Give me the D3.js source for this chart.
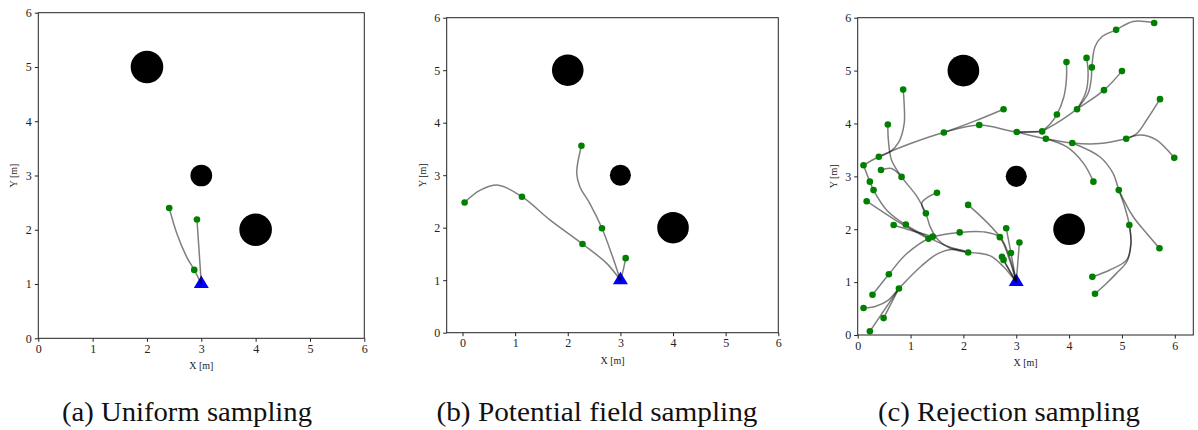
<!DOCTYPE html>
<html><head><meta charset="utf-8">
<script src="https://cdn.jsdelivr.net/npm/d3@7"></script>
<style>
html,body{margin:0;padding:0;background:#fff;}
svg{display:block;}
</style></head>
<body>
<svg id="chart" width="1198" height="430"></svg>
<script>
// ---------- DATA ----------
const tickValues = [0, 1, 2, 3, 4, 5, 6];
const captions = ["(a) Uniform sampling", "(b) Potential field sampling", "(c) Rejection sampling"];
const xLabel = "X [m]";
const yLabel = "Y [m]";

// obstacles: [x, y, radius] in metres
const obstacles = [[2, 5, 0.3], [3, 3, 0.2], [4, 2, 0.3]];
const start = [3, 1];

// (a) Uniform sampling
const nodesA = [[2.41, 2.40], [2.92, 2.19], [2.87, 1.26]];
const pathsA = [
  [[3, 1], [2.87, 1.26], [2.73, 1.50], [2.55, 1.93], [2.41, 2.40]],
  [[3, 1], [2.96, 1.60], [2.92, 2.19]]
];

// (b) Potential field sampling
const nodesB = [[0.04, 2.48], [1.13, 2.59], [2.28, 1.69], [2.26, 3.56], [2.65, 1.99], [3.10, 1.42]];
const pathsB = [
  [[3, 1], [2.74, 1.32], [2.28, 1.69], [1.66, 2.15], [1.13, 2.59], [0.68, 2.81], [0.33, 2.71], [0.04, 2.48]],
  [[3, 1], [2.85, 1.45], [2.65, 1.99], [2.42, 2.46], [2.23, 2.78], [2.17, 3.04], [2.26, 3.56]],
  [[3, 1], [3.06, 1.22], [3.10, 1.42]]
];

// (c) Rejection sampling
const nodesC = [
  [5.61, 5.90], [4.89, 5.77], [4.33, 5.24], [4.43, 5.06], [5.00, 4.99], [3.95, 5.16], [4.66, 4.63],
  [4.15, 4.27], [3.77, 4.17], [3.49, 3.85], [3.01, 3.84], [3.56, 3.71], [4.06, 3.63], [5.08, 3.71],
  [5.72, 4.46], [5.99, 3.35], [4.46, 2.90], [4.94, 2.74], [5.14, 2.08], [5.71, 1.64], [4.44, 1.10],
  [4.49, 0.78], [2.76, 4.27], [2.30, 3.97], [1.63, 3.83], [0.86, 4.64], [0.57, 3.98], [0.40, 3.37],
  [0.11, 3.21], [0.44, 3.12], [0.83, 2.99], [0.23, 2.90], [0.30, 2.74], [0.17, 2.53], [1.50, 2.69],
  [1.29, 2.30], [2.09, 2.46], [0.68, 2.08], [0.91, 2.09], [1.34, 1.82], [1.42, 1.86], [1.93, 1.94],
  [2.09, 1.56], [2.69, 1.85], [2.81, 2.02], [3.06, 1.75], [2.90, 1.55], [2.73, 1.48], [2.76, 1.42],
  [0.59, 1.15], [0.78, 0.88], [0.28, 0.76], [0.11, 0.51], [0.49, 0.32], [0.23, 0.07]
];
const pathsC = [
  [[3, 1], [2.85, 1.25], [2.73, 1.48]],
  [[3, 1], [2.76, 1.42]],
  [[3, 1], [2.90, 1.55], [2.81, 2.02]],
  [[3, 1], [3.06, 1.75]],
  [[3, 1], [2.88, 1.40], [2.69, 1.85], [2.09, 2.46]],
  [[3, 1], [2.88, 1.45], [2.69, 1.85], [2.38, 1.95], [1.93, 1.94], [1.38, 1.84], [0.93, 1.54], [0.59, 1.15], [0.28, 0.76]],
  [[3, 1], [2.75, 1.30], [2.50, 1.50], [2.09, 1.56]],
  [[2.09, 1.56], [1.85, 1.62], [1.52, 1.54], [1.20, 1.30], [0.78, 0.88], [0.58, 0.66], [0.33, 0.54], [0.11, 0.51]],
  [[0.78, 0.88], [0.49, 0.32]],
  [[0.78, 0.88], [0.23, 0.07]],
  [[2.09, 1.56], [1.75, 1.66], [1.43, 1.80], [0.91, 2.08], [0.55, 2.36], [0.30, 2.74], [0.23, 2.90], [0.11, 3.21]],
  [[1.34, 1.82], [0.75, 2.15], [0.17, 2.53]],
  [[1.42, 1.86], [1.00, 1.98], [0.68, 2.08]],
  [[2.09, 1.56], [1.75, 1.64], [1.52, 1.80], [1.37, 2.05], [1.29, 2.30], [1.12, 2.62], [0.83, 2.99], [0.64, 3.31], [0.58, 3.69], [0.57, 3.98]],
  [[1.29, 2.30], [1.21, 2.49], [1.35, 2.62], [1.50, 2.69]],
  [[0.83, 2.99], [0.64, 3.15], [0.44, 3.12]],
  [[0.11, 3.21], [0.40, 3.37], [1.00, 3.62], [1.63, 3.83], [2.30, 3.97], [3.01, 3.84], [3.49, 3.85]],
  [[3.01, 3.84], [3.49, 3.85]],
  [[0.40, 3.37], [0.62, 3.47], [0.78, 3.65], [0.88, 4.00], [0.88, 4.35], [0.86, 4.64]],
  [[1.63, 3.83], [2.20, 4.04], [2.76, 4.27]],
  [[3.49, 3.85], [3.65, 4.00], [3.77, 4.17], [3.90, 4.50], [3.95, 4.85], [3.95, 5.16]],
  [[3.49, 3.85], [3.80, 4.03], [4.15, 4.27], [4.66, 4.63], [5.00, 4.99]],
  [[4.15, 4.27], [4.36, 4.57], [4.42, 4.85], [4.43, 5.06], [4.49, 5.45], [4.62, 5.64], [4.89, 5.77], [5.21, 5.93], [5.61, 5.90]],
  [[4.15, 4.27], [4.32, 4.60], [4.36, 4.95], [4.33, 5.24]],
  [[3.01, 3.84], [3.56, 3.71], [4.06, 3.63], [4.58, 3.62], [5.08, 3.71]],
  [[5.08, 3.71], [5.28, 3.81], [5.47, 4.07], [5.72, 4.46]],
  [[5.08, 3.71], [5.34, 3.78], [5.65, 3.69], [5.99, 3.35]],
  [[3.56, 3.71], [3.95, 3.56], [4.27, 3.25], [4.46, 2.90]],
  [[4.06, 3.63], [4.58, 3.37], [4.83, 3.06], [4.94, 2.74], [5.05, 2.43], [5.14, 2.08], [5.17, 1.73], [5.09, 1.42], [4.77, 1.23], [4.44, 1.10]],
  [[5.14, 2.08], [5.17, 1.73], [5.10, 1.40], [4.90, 1.17], [4.71, 0.98], [4.49, 0.78]],
  [[4.94, 2.74], [5.21, 2.24], [5.47, 1.92], [5.71, 1.64]]
];

// ---------- LAYOUT ----------
const panels = [
  {nodes: nodesA, paths: pathsA, xDomain: [0, 6], yDomain: [0, 6], x0: 38.3, x1: 364.3, y0: 338.3, y1: 12.7, capX: 187, capW: 250},
  {nodes: nodesB, paths: pathsB, xDomain: [-0.3, 6], yDomain: [0, 6], x0: 446.7, x1: 778.3, y0: 332.7, y1: 17.7, capX: 597, capW: 321},
  {nodes: nodesC, paths: pathsC, xDomain: [0, 6.35], yDomain: [0, 6], x0: 857.7, x1: 1193.3, y0: 335, y1: 17.7, capX: 1009, capW: 262}
];

const svg = d3.select("#chart");
svg.append("rect").attr("width", 1198).attr("height", 430).attr("fill", "#fff");

const serif = '"Liberation Serif","DejaVu Serif",serif';

panels.forEach((p, i) => {
  const x = d3.scaleLinear().domain(p.xDomain).range([p.x0, p.x1]);
  const y = d3.scaleLinear().domain(p.yDomain).range([p.y0, p.y1]);
  const g = svg.append("g");

  // obstacles
  g.selectAll("circle.obs").data(obstacles).join("circle")
    .attr("class", "obs")
    .attr("cx", d => x(d[0])).attr("cy", d => y(d[1]))
    .attr("r", d => x(d[2]) - x(0))
    .attr("fill", "#000");

  // start triangle
  const sx = x(start[0]), sy = y(start[1]) - 2;
  g.append("path")
    .attr("d", `M${sx},${sy - 6.5}L${sx + 7.5},${sy + 6}L${sx - 7.5},${sy + 6}Z`)
    .attr("fill", "#0000ff");

  // edges
  const line = d3.line().x(d => x(d[0])).y(d => y(d[1])).curve(d3.curveCatmullRom.alpha(0.5));
  g.selectAll("path.edge").data(p.paths).join("path")
    .attr("class", "edge")
    .attr("d", line)
    .attr("fill", "none")
    .attr("stroke", "#000")
    .attr("stroke-opacity", 0.5)
    .attr("stroke-width", 1.5);

  // nodes
  g.selectAll("circle.node").data(p.nodes).join("circle")
    .attr("class", "node")
    .attr("cx", d => x(d[0])).attr("cy", d => y(d[1]))
    .attr("r", 3.3)
    .attr("fill", "#008000");

  // frame
  g.append("rect")
    .attr("x", p.x0).attr("y", p.y1)
    .attr("width", p.x1 - p.x0).attr("height", p.y0 - p.y1)
    .attr("fill", "none").attr("stroke", "#222").attr("stroke-width", 1);

  // axes
  const xa = g.append("g").attr("transform", `translate(0,${p.y0})`)
    .call(d3.axisBottom(x).tickValues(tickValues).tickSize(3.5).tickPadding(2.5).tickFormat(d3.format("d")));
  const ya = g.append("g").attr("transform", `translate(${p.x0},0)`)
    .call(d3.axisLeft(y).tickValues(tickValues).tickSize(3.5).tickPadding(3).tickFormat(d3.format("d")));
  [xa, ya].forEach(a => {
    a.attr("font-family", null).attr("font-size", null);
    a.select(".domain").remove();
    a.selectAll(".tick line").attr("stroke", "#222");
    a.selectAll(".tick text")
      .style("font-family", serif).style("font-size", "12px").attr("fill", "#222");
  });

  // axis labels
  g.append("text")
    .attr("x", (p.x0 + p.x1) / 2).attr("y", p.y0 + 31)
    .attr("text-anchor", "middle").style("font-family", serif).style("font-size", "10px").attr("fill", "#222")
    .text(xLabel);
  const ly = (p.y0 + p.y1) / 2;
  g.append("text")
    .attr("transform", `translate(${p.x0 - 21},${ly}) rotate(-90)`)
    .attr("text-anchor", "middle").style("font-family", serif).style("font-size", "10px").attr("fill", "#222")
    .text(yLabel);

  // caption
  svg.append("text")
    .attr("x", p.capX).attr("y", 421)
    .attr("text-anchor", "middle").style("font-family", serif).style("font-size", "27px").attr("fill", "#111")
    .attr("textLength", p.capW).attr("lengthAdjust", "spacingAndGlyphs")
    .text(captions[i]);
});
</script>
</body></html>
